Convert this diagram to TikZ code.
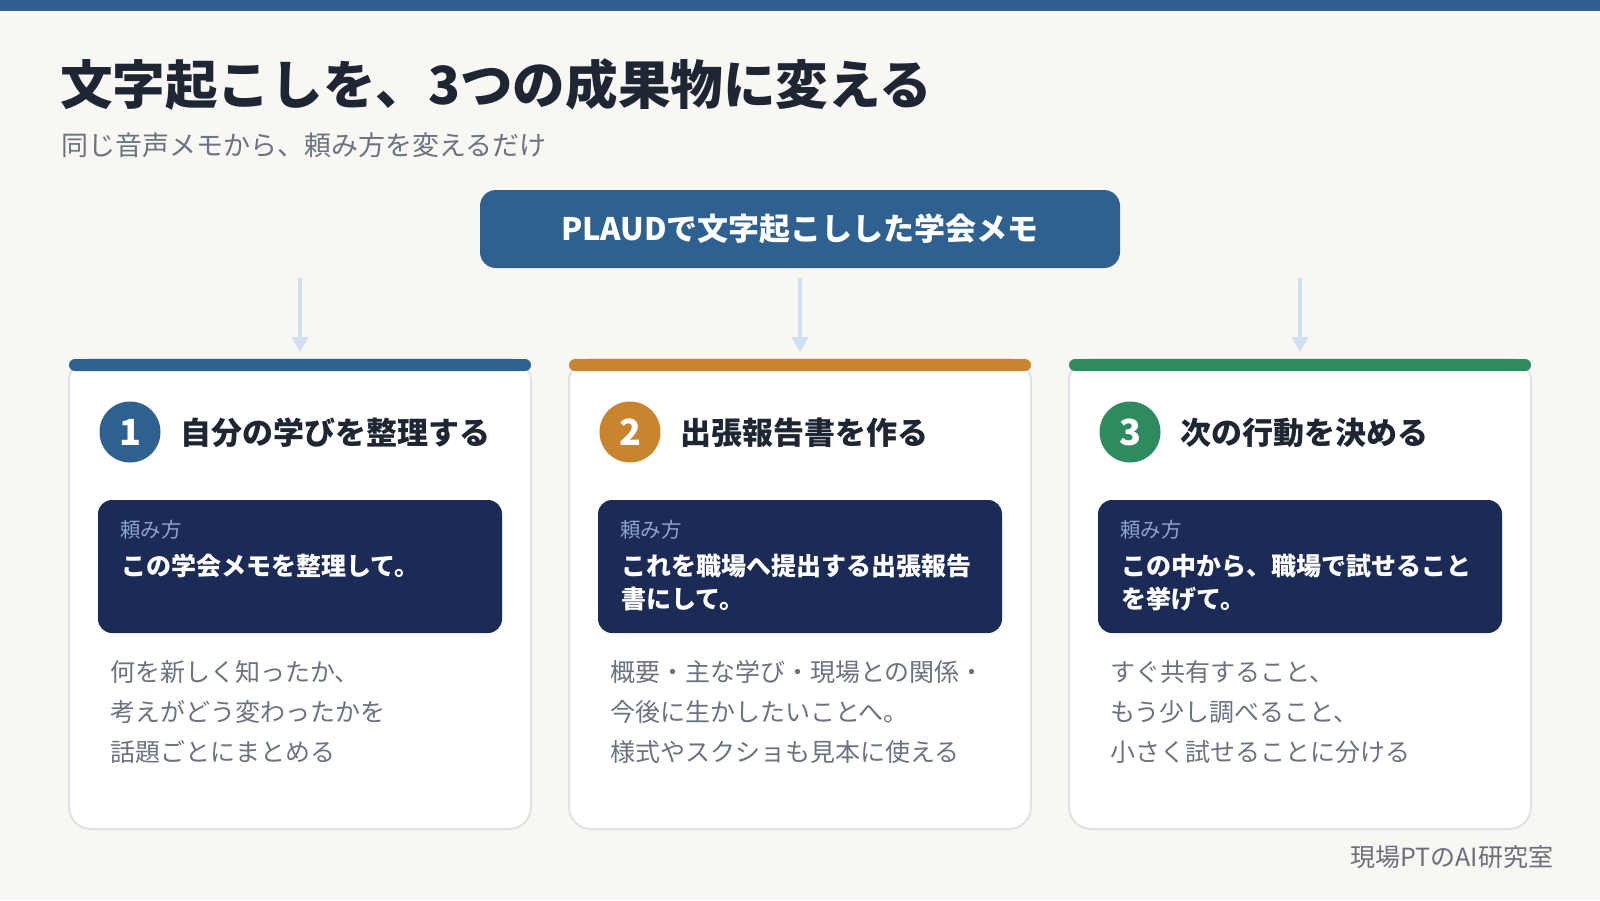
\documentclass[tikz,border=0pt]{standalone}
\usepackage{fontspec}
\setmainfont{Noto Sans CJK JP}
\usetikzlibrary{arrows.meta}
\definecolor{bgc}{HTML}{F8F7F4}
\definecolor{topbarc}{HTML}{2E5F8E}
\definecolor{titlec}{HTML}{1E2633}
\definecolor{subc}{HTML}{6B7280}
\definecolor{srcc}{HTML}{2E6090}
\definecolor{arrc}{HTML}{CFE0F2}
\definecolor{cardline}{HTML}{DFE2E7}
\definecolor{bluec}{HTML}{2E6090}
\definecolor{orangec}{HTML}{C8842E}
\definecolor{greenc}{HTML}{2E8B60}
\definecolor{navyc}{HTML}{1B2B56}
\definecolor{labelc}{HTML}{8EA4CC}
\definecolor{bodyc}{HTML}{6B7280}
\definecolor{footc}{HTML}{6E6E7A}
\begin{document}
\begin{tikzpicture}[x=1pt,y=-1pt,
  every node/.style={inner sep=0pt, outer sep=0pt},
  srcbox/.style={fill=srcc, rounded corners=16pt, minimum width=640pt, minimum height=78pt,
    text=white, font=\bfseries\fontsize{31}{36}\selectfont},
  cardbox/.style={fill=white, draw=cardline, line width=2pt, rounded corners=22pt,
    minimum width=462pt, minimum height=470pt},
  cardbar/.style={rounded corners=6pt, minimum width=462pt, minimum height=12pt},
  numc/.style={circle, minimum size=61pt, text=white, font=\bfseries\fontsize{36}{40}\selectfont},
  ctitle/.style={anchor=base west, text=titlec, font=\bfseries\fontsize{31}{36}\selectfont},
  askbox/.style={fill=navyc, rounded corners=14pt, minimum width=404pt, minimum height=133pt},
  asklabel/.style={anchor=base west, text=labelc, font=\fontsize{20.5}{24}\selectfont},
  asktext/.style={anchor=base west, align=left, text=white, font=\bfseries\fontsize{25}{33}\selectfont},
  bodytext/.style={anchor=base west, align=left, text=bodyc, font=\fontsize{25}{40}\selectfont},
  arr/.style={draw=arrc, line width=3.5pt, -{Triangle[width=16pt,length=15pt]}}
]
\fill[bgc] (0,0) rectangle (1600,900);
\fill[topbarc] (0,0) rectangle (1600,11);

\node[anchor=base west, text=titlec, font=\bfseries\fontsize{52.6}{60}\selectfont] (title) at (60,104)
  {文字起こしを、3つの成果物に変える};
\node[anchor=base west, text=subc, font=\fontsize{27}{32}\selectfont] (sub) at (61,155)
  {同じ音声メモから、頼み方を変えるだけ};

\node[srcbox] (src) at (800,229) {PLAUDで文字起こしした学会メモ};

% cards
\node[cardbox] (c1) at (300,594) {};
\node[cardbox] (c2) at (800,594) {};
\node[cardbox] (c3) at (1300,594) {};
\node[cardbar, fill=bluec] (b1) at (300,365) {};
\node[cardbar, fill=orangec] (b2) at (800,365) {};
\node[cardbar, fill=greenc] (b3) at (1300,365) {};

% arrows
\coordinate (a1) at (300,278);
\coordinate (a2) at (800,278);
\coordinate (a3) at (1300,278);
\draw[arr] (a1) -- ([yshift=7pt]b1.north);
\draw[arr] (a2) -- ([yshift=7pt]b2.north);
\draw[arr] (a3) -- ([yshift=7pt]b3.north);

% card 1
\node[numc, fill=bluec] (n1) at (130,432) {1};
\node[ctitle] (t1) at (180,444) {自分の学びを整理する};
\node[askbox] (k1) at (300,566.5) {};
\node[asklabel] (l1) at (120,537) {頼み方};
\node[asktext] (p1) at (121,575) {この学会メモを整理して。};
\node[bodytext] (d1) at (110,761) {何を新しく知ったか、\\考えがどう変わったかを\\話題ごとにまとめる};

% card 2
\node[numc, fill=orangec] (n2) at (630,432) {2};
\node[ctitle] (t2) at (680,444) {出張報告書を作る};
\node[askbox] (k2) at (800,566.5) {};
\node[asklabel] (l2) at (620,537) {頼み方};
\node[asktext] (p2) at (621,608) {これを職場へ提出する出張報告\\書にして。};
\node[bodytext] (d2) at (610,761) {概要・主な学び・現場との関係・\\今後に生かしたいことへ。\\様式やスクショも見本に使える};

% card 3
\node[numc, fill=greenc] (n3) at (1130,432) {3};
\node[ctitle] (t3) at (1180,444) {次の行動を決める};
\node[askbox] (k3) at (1300,566.5) {};
\node[asklabel] (l3) at (1120,537) {頼み方};
\node[asktext] (p3) at (1121,608) {この中から、職場で試せること\\を挙げて。};
\node[bodytext] (d3) at (1110,761) {すぐ共有すること、\\もう少し調べること、\\小さく試せることに分ける};

\node[anchor=base east, text=footc, font=\fontsize{25}{30}\selectfont] (foot) at (1553,866) {現場PTのAI研究室};
\end{tikzpicture}
\end{document}
